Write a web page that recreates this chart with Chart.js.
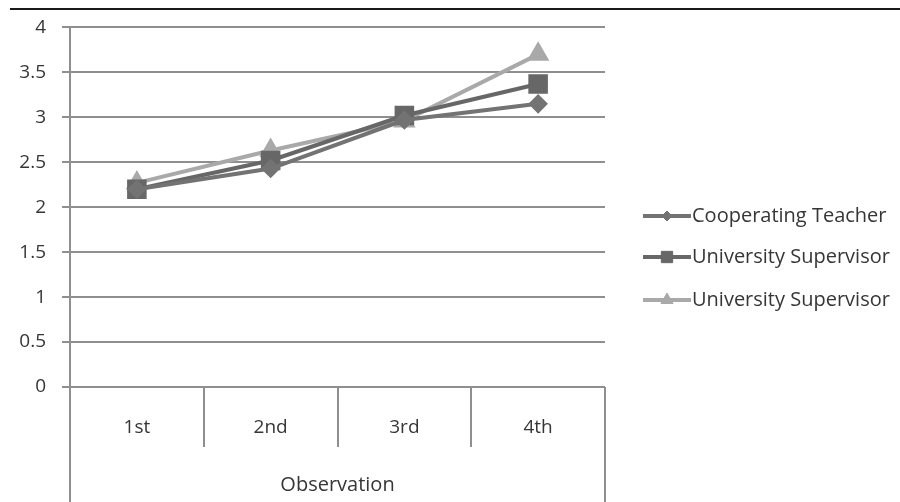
<!DOCTYPE html>
<html>
<head>
<meta charset="utf-8">
<script src="https://cdn.jsdelivr.net/npm/chart.js@4.4.1/dist/chart.umd.min.js"></script>
<style>
  html, body { margin: 0; padding: 0; background: #fff; }
  #wrap { width: 900px; height: 502px; position: relative; }
</style>
</head>
<body>
<div id="wrap"><canvas id="obsChart"></canvas></div>
<script>
// Daten
const categories = ["1st", "2nd", "3rd", "4th"];
const seriesNames = ["Cooperating Teacher", "University Supervisor", "University Supervisor"];
const cooperatingTeacher = [2.2, 2.43, 2.97, 3.15];
const universitySupervisor = [2.2, 2.52, 3.02, 3.37];
const universitySupervisor2 = [2.27, 2.63, 2.96, 3.7];
const yTicks = [0, 0.5, 1, 1.5, 2, 2.5, 3, 3.5, 4];

const textColor = "#363636";
const gridColor = "#8f8f8f";
const fontFamily = "'Open Sans'";

/*
Zeichnet die Legende rechts (Linie mit Marker) und die Rahmenlinien.
 */
const extrasPlugin = {
    id: "extras",
    afterDraw(chart) {
        const ctx = chart.ctx;
        const area = chart.chartArea;
        ctx.save();
        // obere schwarze Linie
        ctx.strokeStyle = "#1a1a1a";
        ctx.lineWidth = 2;
        ctx.beginPath();
        ctx.moveTo(10, 9);
        ctx.lineTo(900, 9);
        ctx.stroke();
        // linke Achse bis ganz unten, rechte Kante unterhalb der Achse
        ctx.strokeStyle = gridColor;
        ctx.beginPath();
        ctx.moveTo(area.left, area.top);
        ctx.lineTo(area.left, chart.height);
        ctx.moveTo(area.right, area.bottom);
        ctx.lineTo(area.right, chart.height);
        ctx.stroke();

        // Legende
        const legendY = [216, 257, 300];
        const legendRadius = [5, 8, 7];
        chart.data.datasets.forEach((ds, i) => {
            const y = legendY[i];
            ctx.strokeStyle = ds.borderColor;
            ctx.fillStyle = ds.borderColor;
            ctx.lineWidth = 4;
            ctx.beginPath();
            ctx.moveTo(643, y);
            ctx.lineTo(691, y);
            ctx.stroke();
            ctx.lineWidth = 1;
            Chart.helpers.drawPoint(ctx, {
                pointStyle: ds.pointStyle,
                radius: legendRadius[i],
                rotation: 0,
                borderWidth: 1
            }, 667, y);
            ctx.fillStyle = textColor;
            ctx.font = "20px " + fontFamily;
            ctx.textBaseline = "middle";
            ctx.textAlign = "left";
            ctx.fillText(ds.label, 692, y);
        });
        ctx.restore();
    }
};

function makeDataset(label, data, color, style, radius) {
    return {
        label: label,
        data: data,
        borderColor: color,
        backgroundColor: color,
        pointBackgroundColor: color,
        pointBorderColor: color,
        borderWidth: 4,
        pointStyle: style,
        pointRadius: radius,
        tension: 0
    };
}

const ctx = document.getElementById("obsChart");
const obsChart = new Chart(ctx, {
    type: "line",
    data: {
        labels: categories,
        datasets: [
            makeDataset(seriesNames[0], cooperatingTeacher, "#737373", "rectRot", 7),
            makeDataset(seriesNames[1], universitySupervisor, "#676767", "rect", 11),
            makeDataset(seriesNames[2], universitySupervisor2, "#a9a9a9", "triangle", 9)
        ]
    },
    options: {
        responsive: true,
        maintainAspectRatio: false,
        animation: false,
        layout: { padding: { left: 0, right: 295, top: 25, bottom: 0 } },
        plugins: {
            legend: { display: false },
            tooltip: { enabled: false }
        },
        scales: {
            x: {
                offset: true,
                afterFit: function (scale) { scale.height = 115; },
                grid: {
                    offset: true,
                    drawOnChartArea: false,
                    drawTicks: true,
                    tickLength: 60,
                    lineWidth: 2,
                    color: gridColor
                },
                border: { display: false },
                ticks: {
                    color: textColor,
                    font: { family: fontFamily, size: 19 },
                    padding: -31,
                    maxRotation: 0
                },
                title: {
                    display: true,
                    text: "Observation",
                    color: textColor,
                    font: { family: fontFamily, size: 20 },
                    padding: { top: 0, bottom: 5 }
                }
            },
            y: {
                min: 0,
                max: 4,
                afterFit: function (scale) { scale.width = 70; },
                afterBuildTicks: function (scale) {
                    scale.ticks = yTicks.map((v) => ({ value: v }));
                },
                grid: {
                    color: gridColor,
                    lineWidth: 2,
                    tickLength: 8
                },
                border: { color: gridColor, width: 2 },
                ticks: {
                    color: textColor,
                    font: { family: fontFamily, size: 19 },
                    padding: 16,
                    callback: (value) => String(value)
                }
            }
        }
    },
    plugins: [extrasPlugin]
});
</script>
</body>
</html>
